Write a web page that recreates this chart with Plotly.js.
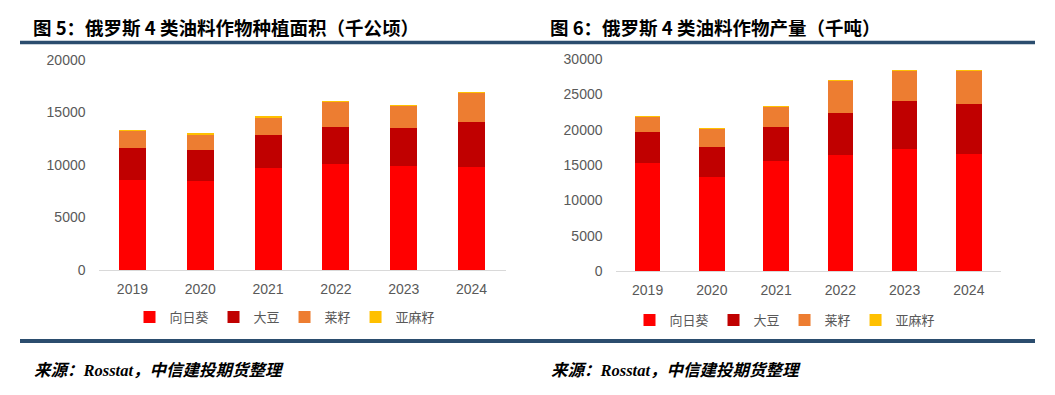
<!DOCTYPE html>
<html>
<head>
<meta charset="utf-8">
<script src="https://cdn.plot.ly/plotly-3.0.1.min.js"></script>
<style>
html,body{margin:0;padding:0;background:#fff;}
#chart{width:1055px;height:395px;}
</style>
</head>
<body>
<div id="chart"></div>
<script>
// ---- data ----
const years = ['2019', '2020', '2021', '2022', '2023', '2024'];
const seriesNames = ['向日葵', '大豆', '莱籽', '亚麻籽'];

// 图5 种植面积（千公顷）
const areaSunflower = [8570, 8510, 9750, 10100, 9900, 9840];
const areaSoy       = [3080, 2920, 3110, 3550, 3620, 4290];
const areaRapeseed  = [1590, 1520, 1710, 2380, 2160, 2790];
const areaLinseed   = [15, 15, 15, 15, 15, 15];

// 图6 产量（千吨）
const prodSunflower = [15330, 13350, 15610, 16370, 17220, 16560];
const prodSoy       = [4390, 4250, 4760, 6040, 6840, 7080];
const prodRapeseed  = [2120, 2600, 2880, 4480, 4340, 4670];
const prodLinseed   = [25, 25, 25, 25, 25, 25];

const titles = ['图 5：俄罗斯 4 类油料作物种植面积（千公顷）', '图 6：俄罗斯 4 类油料作物产量（千吨）'];
const sourceText = '来源：Rosstat，中信建投期货整理';

const colors = ['#FF0000', '#C00000', '#ED7D31', '#FFC000'];

const areaSets = [areaSunflower, areaSoy, areaRapeseed, areaLinseed];
const prodSets = [prodSunflower, prodSoy, prodRapeseed, prodLinseed];

const traces = [];
areaSets.forEach((vals, i) => {
  traces.push({
    type: 'bar', x: years, y: vals, name: seriesNames[i],
    marker: {color: colors[i]}, xaxis: 'x', yaxis: 'y', legend: 'legend',
    hoverinfo: 'x+y+name'
  });
});
prodSets.forEach((vals, i) => {
  traces.push({
    type: 'bar', x: years, y: vals, name: seriesNames[i],
    marker: {color: colors[i]}, xaxis: 'x2', yaxis: 'y2', legend: 'legend2',
    hoverinfo: 'x+y+name'
  });
});

const W = 1055, H = 395;
const px = v => v / W;
const py = v => 1 - v / H;

const tickFont = {family: 'Liberation Sans, Arial, sans-serif', size: 14, color: '#595959'};
const legendFont = {family: 'Noto Sans CJK SC, sans-serif', size: 13, color: '#595959'};

const xBase = {
  type: 'category', showgrid: false, zeroline: false,
  showline: true, linecolor: '#D9D9D9', linewidth: 1,
  ticks: '', tickfont: tickFont, ticklabelstandoff: 6, fixedrange: true
};
const yBase = {
  showgrid: false, zeroline: false, showline: false,
  ticks: '', tickfont: tickFont, ticklabelstandoff: 12, fixedrange: true,
  tickformat: 'd'
};

const layout = {
  width: W, height: H,
  margin: {l: 0, r: 0, t: 0, b: 0},
  paper_bgcolor: '#ffffff', plot_bgcolor: '#ffffff',
  barmode: 'stack', bargap: 0.6,
  font: {family: 'Noto Sans CJK SC, sans-serif'},
  xaxis: Object.assign({}, xBase, {domain: [px(98.5), px(505.5)], anchor: 'y'}),
  yaxis: Object.assign({}, yBase, {domain: [py(270), py(60)], range: [0, 20000], dtick: 5000, anchor: 'x'}),
  xaxis2: Object.assign({}, xBase, {domain: [px(615.5), px(1001)], anchor: 'y2'}),
  yaxis2: Object.assign({}, yBase, {domain: [py(271), py(59)], range: [0, 30000], dtick: 5000, anchor: 'x2'}),
  legend: {
    orientation: 'h', x: px(285), xanchor: 'center', y: py(317), yanchor: 'middle',
    font: legendFont, itemwidth: 30, bgcolor: 'rgba(0,0,0,0)', traceorder: 'normal',
    itemclick: false, itemdoubleclick: false
  },
  legend2: {
    orientation: 'h', x: px(785), xanchor: 'center', y: py(320), yanchor: 'middle',
    font: legendFont, itemwidth: 30, bgcolor: 'rgba(0,0,0,0)', traceorder: 'normal',
    itemclick: false, itemdoubleclick: false
  },
  shapes: [
    {type: 'line', xref: 'paper', yref: 'paper', x0: px(20), x1: px(1035), y0: py(42.5), y1: py(42.5),
     line: {color: '#2B4D6E', width: 3.5}},
    {type: 'line', xref: 'paper', yref: 'paper', x0: px(20), x1: px(1035), y0: py(341), y1: py(341),
     line: {color: '#2B4D6E', width: 4}}
  ],
  annotations: [
    {text: '<b>' + titles[0] + '</b>', xref: 'paper', yref: 'paper', x: px(31), y: py(27),
     xanchor: 'left', yanchor: 'middle', showarrow: false,
     font: {family: 'Noto Sans CJK SC, sans-serif', size: 18.5, color: '#000000'}},
    {text: '<b>' + titles[1] + '</b>', xref: 'paper', yref: 'paper', x: px(548), y: py(27),
     xanchor: 'left', yanchor: 'middle', showarrow: false,
     font: {family: 'Noto Sans CJK SC, sans-serif', size: 18.5, color: '#000000'}},
    {text: '<b><i>' + sourceText + '</i></b>', xref: 'paper', yref: 'paper', x: px(32), y: py(370),
     xanchor: 'left', yanchor: 'middle', showarrow: false,
     font: {family: 'Liberation Serif, Noto Sans CJK SC, serif', size: 16.5, color: '#000000'}},
    {text: '<b><i>' + sourceText + '</i></b>', xref: 'paper', yref: 'paper', x: px(549), y: py(370),
     xanchor: 'left', yanchor: 'middle', showarrow: false,
     font: {family: 'Liberation Serif, Noto Sans CJK SC, serif', size: 16.5, color: '#000000'}}
  ]
};

Plotly.newPlot('chart', traces, layout, {displayModeBar: false, staticPlot: false, responsive: false});
</script>
</body>
</html>
